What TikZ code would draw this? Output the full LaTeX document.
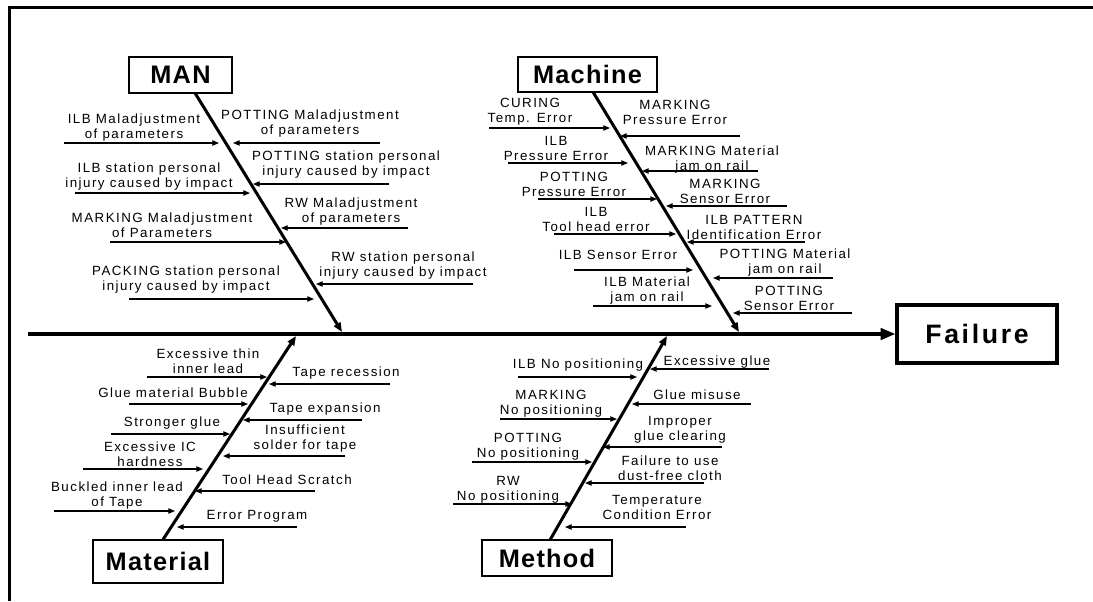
\documentclass[tikz,border=0pt]{standalone}
\usepackage{fontspec}
\setmainfont{Liberation Sans}
\newfontfamily\labfont{Liberation Sans}[LetterSpace=11,Ligatures=CommonOff]
\newfontfamily\catfont{Liberation Sans}[LetterSpace=5]
\newfontfamily\failfont{Liberation Sans}[LetterSpace=10]
\usetikzlibrary{arrows.meta}
\tikzset{
  lab/.style={inner sep=0pt, align=center, font=\labfont\fontsize{10}{11.25}\selectfont},
  catbox/.style={draw, line width=1.2pt, inner sep=0pt, font=\catfont\bfseries\fontsize{19}{22}\selectfont},
  failbox/.style={draw, line width=2.4pt, inner sep=0pt, font=\failfont\bfseries\fontsize{20}{24}\selectfont},
  bone/.style={line width=2.25pt, -{Triangle[length=7pt,width=5.5pt]}},
  subarrow/.style={line width=0.9pt, -{Triangle[length=5pt,width=4pt]}},
  spine/.style={line width=2.4pt, -{Triangle[length=11pt,width=8.5pt]}},
  frame/.style={line width=2.4pt, line join=miter}
}
\newcommand\fishcause[7]{%
  \node[lab] (#1) at (#2,#3) {#4};
  \coordinate (#1s) at (#6,#5);
  \coordinate (#1e) at (#7,#5);
  \draw[subarrow] (#1s) -- (#1e);}
\begin{document}
\begin{tikzpicture}[x=0.75pt,y=-0.75pt]
\useasboundingbox (0,0) rectangle (1093,601);
% frame
\coordinate (frBL) at (9.5,601);
\coordinate (frTL) at (9.5,7.5);
\coordinate (frTR) at (1093,7.5);
\draw[frame] (frBL) -- (frTL) -- (frTR);

% category boxes
\node[catbox, minimum width=77.25pt, minimum height=27pt] (man) at (180.5,75) {MAN};
\node[catbox, minimum width=104.25pt, minimum height=26.25pt] (mac) at (587.5,74.5) {Machine};
\node[catbox, minimum width=97.5pt, minimum height=32.25pt] (mat) at (158,561.5) {Material};
\node[catbox, minimum width=97.5pt, minimum height=27pt] (met) at (547,558) {Method};
\node[failbox, minimum width=120pt, minimum height=43.5pt] (fail) at (977,334) {Failure};

% spine
\coordinate (spL) at (28,334);
\draw[spine] (spL) -- (fail.west);

% bones
\coordinate (manA) at (195,93);   \coordinate (manB) at (342,332);
\coordinate (macA) at (593,92);   \coordinate (macB) at (739,332);
\coordinate (matA) at (163,539.5); \coordinate (matB) at (296,336);
\coordinate (metA) at (550,540);  \coordinate (metB) at (667,336);
\draw[bone] (manA) -- (manB);
\draw[bone] (macA) -- (macB);
\draw[bone] (matA) -- (matB);
\draw[bone] (metA) -- (metB);

% MAN causes
\fishcause{m1}{134}{127.5}{ILB Maladjustment\\of parameters}{143}{64}{219}
\fishcause{m2}{149}{177}{ILB station personal\\injury caused by impact}{193}{75}{250}
\fishcause{m3}{162}{225}{MARKING Maladjustment\\of Parameters}{242}{110}{286}
\fishcause{m4}{186}{280}{PACKING station personal\\injury caused by impact}{299}{129}{314}
\fishcause{m5}{310}{124}{POTTING Maladjustment\\of parameters}{143}{380}{233}
\fishcause{m6}{346}{165}{POTTING station personal\\injury caused by impact}{184}{389}{253}
\fishcause{m7}{351}{211.5}{RW Maladjustment\\of parameters}{228}{408}{281}
\fishcause{m8}{403}{266}{RW station personal\\injury caused by impact}{284}{473}{316}

% Machine causes
\fishcause{c1}{530}{112}{CURING\\Temp. Error}{128}{489}{610}
\fishcause{c2}{556}{148}{ILB\\Pressure Error}{163}{508}{628}
\fishcause{c3}{574}{184}{POTTING\\Pressure Error}{199}{538}{657}
\fishcause{c4}{596}{219.5}{ILB\\Tool head error}{234}{554}{676}
\fishcause{c5}{618}{255}{ILB Sensor Error}{270}{574}{693}
\fishcause{c6}{647}{290.5}{ILB Material\\jam on rail}{306}{593}{712}
\fishcause{c7}{675}{112}{MARKING\\Pressure Error}{136}{740}{620}
\fishcause{c8}{712}{159.5}{MARKING Material\\jam on rail}{171}{758}{642}
\fishcause{c9}{725}{191}{MARKING\\Sensor Error}{206}{787}{666}
\fishcause{c10}{754}{227.5}{ILB PATTERN\\Identification Error}{242}{805}{687}
\fishcause{c11}{785}{263}{POTTING Material\\jam on rail}{278}{833}{713}
\fishcause{c12}{789}{298}{POTTING\\Sensor Error}{313}{852}{733}

% Material causes
\fishcause{t1}{208}{361.5}{Excessive thin\\inner lead}{377}{147}{267}
\fishcause{t2}{173}{393}{Glue material Bubble}{404}{129}{248}
\fishcause{t3}{172}{423}{Stronger glue}{434}{111}{230}
\fishcause{t4}{150}{454.5}{Excessive IC\\hardness}{469}{83}{203}
\fishcause{t5}{117}{496}{Buckled inner lead\\of Tape}{511}{54}{175}
\fishcause{t6}{346}{373}{Tape recession}{384}{390}{269}
\fishcause{t7}{325}{409}{Tape expansion}{420}{362}{243}
\fishcause{t8}{305}{439}{Insufficient\\solder for tape}{456}{345}{223}
\fishcause{t9}{287}{480}{Tool Head Scratch}{491}{315}{195}
\fishcause{t10}{257}{516}{Error Program}{527}{297}{177}

% Method causes
\fishcause{d1}{578}{365}{ILB No positioning}{377}{518}{637}
\fishcause{d2}{551}{404}{MARKING\\No positioning}{419}{500}{617}
\fishcause{d3}{528}{447}{POTTING\\No positioning}{462}{472}{592}
\fishcause{d4}{508}{490}{RW\\No positioning}{504}{453}{572}
\fishcause{d5}{717}{362}{Excessive glue}{369}{769}{650}
\fishcause{d6}{697}{395}{Glue misuse}{404}{751}{632}
\fishcause{d7}{680}{429.5}{Improper\\glue clearing}{447}{722}{603}
\fishcause{d8}{670}{468.5}{Failure to use\\dust-free cloth}{483}{704}{585}
\fishcause{d9}{657}{507.5}{Temperature\\Condition Error}{527}{686}{565}
\end{tikzpicture}
\end{document}
